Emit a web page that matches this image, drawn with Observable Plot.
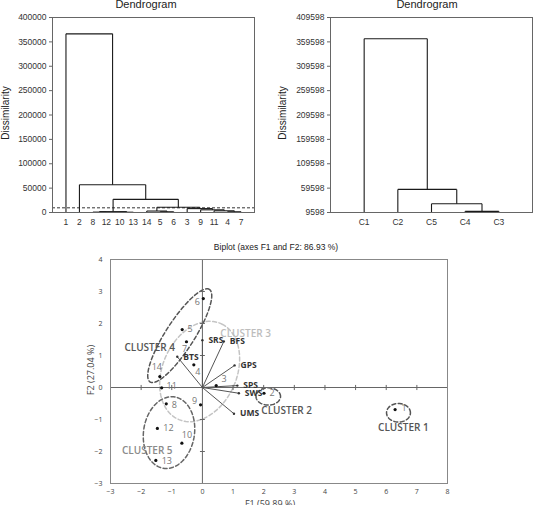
<!DOCTYPE html>
<html><head><meta charset="utf-8">
<script src="https://cdn.jsdelivr.net/npm/d3@7"></script>
<script src="https://cdn.jsdelivr.net/npm/@observablehq/plot@0.6"></script>
<style>
html,body{margin:0;padding:0;background:#fff;overflow:hidden}
#root{position:relative;width:533px;height:505px;font-family:"Liberation Sans",Arial,sans-serif;color:#222}
#root svg{position:absolute;overflow:visible}
.t{position:absolute;white-space:nowrap;transform:translate(-50%,-50%);line-height:1}
.r{transform:translate(-50%,-50%) rotate(-90deg)}
</style></head><body><div id="root"></div>
<script>
// ---------- Dendrogram 1 (objects) ----------
const leavesL = ["1","2","8","12","10","13","14","5","6","3","9","11","4","7"];
// merges: [childA, childB, dissimilarity]; children < n are leaves (by position), >= n are earlier merges
const mergesL = [
  [12,13,1500],[2,3,800],[4,5,600],[7,8,1500],[11,14,3500],[15,16,1800],
  [6,17,3000],[10,18,5500],[9,21,8000],[20,22,10900],[19,23,27000],[1,24,57000],[0,25,366500]
];
const yTicksL = [0,50000,100000,150000,200000,250000,300000,350000,400000];
const cutLevel = 9598;

// ---------- Dendrogram 2 (clusters) ----------
const leavesR = ["C1","C2","C5","C4","C3"];
const mergesR = [[3,4,12000],[2,5,27400],[1,6,57000],[0,7,366000]];
const yTicksR = [9598,59598,109598,159598,209598,259598,309598,359598,409598];

// ---------- Biplot ----------
const obsIds = ["1","2","3","4","5","6","7","8","9","10","11","12","13","14"];
const obsF1 = [6.29, 2.01, 0.45, -0.28, -0.66, 0.03, -0.52, -1.18, -0.06, -0.67, -1.33, -1.47, -1.52, -1.39];
const obsF2 = [-0.69, -0.18, 0.06, 0.71, 1.81, 2.78, 1.43, -0.51, -0.54, -1.74, -0.01, -1.28, -2.28, 0.34];
const varNames = ["SRS","BFS","BTS","GPS","SPS","SWS","UMS"];
const varF1 = [0.00, 0.70, -0.82, 1.05, 1.14, 1.19, 1.03];
const varF2 = [1.48, 1.44, 0.96, 0.69, 0.06, -0.18, -0.82];
const clusterNames = ["CLUSTER 1","CLUSTER 2","CLUSTER 3","CLUSTER 4","CLUSTER 5"];
const clusterLabelF1 = [6.56, 2.75, 1.41, -1.72, -1.80];
const clusterLabelF2 = [-1.26, -0.74, 1.69, 1.23, -1.97];
const ellCx = [6.40, 2.15, -0.09, -0.74, -1.09];
const ellCy = [-0.79, -0.28, 0.50, 1.62, -1.41];
const ellA = [0.39, 0.40, 1.65, 1.74, 1.13];
const ellB = [0.29, 0.27, 1.20, 0.46, 0.83];
const ellAngle = [0, 0, 63, 56, 80];
const xTicksB = [-3,-2,-1,0,1,2,3,4,5,6,7,8];
const yTicksB = [-3,-2,-1,0,1,2,3,4];

const root = document.getElementById("root");
function place(el, left, top){ el.style.left = left+"px"; el.style.top = top+"px"; root.appendChild(el); }
function label(txt, x, y, css, rot){
  const d = document.createElement("div"); d.className = "t" + (rot ? " r" : ""); d.textContent = txt;
  Object.assign(d.style, css); d.style.left = x+"px"; d.style.top = y+"px"; root.appendChild(d);
}

function dendroSegs(leaves, merges, base){
  const nx = leaves.map((_, i) => i), nh = leaves.map(() => base), segs = [];
  merges.forEach(([a, b, h]) => {
    segs.push({x1: nx[a], y1: nh[a], x2: nx[a], y2: h});
    segs.push({x1: nx[a], y1: h, x2: nx[b], y2: h});
    segs.push({x1: nx[b], y1: h, x2: nx[b], y2: nh[b]});
    nx.push((nx[a] + nx[b]) / 2); nh.push(h);
  });
  return segs;
}

function dendro(leaves, merges, yTicks, extra){
  const segs = dendroSegs(leaves, merges, yTicks[0]);
  return Plot.plot({
    width: 266, height: 230, marginLeft: 52, marginRight: 12, marginTop: 17, marginBottom: 18,
    style: {fontFamily: "Liberation Sans, Arial, sans-serif", fontSize: "8.5px", color: "#333", background: "transparent"},
    x: {domain: [-1, leaves.length]},
    y: {domain: [yTicks[0], yTicks[yTicks.length - 1]]},
    marks: [
      ...extra,
      Plot.link(segs, {x1: "x1", y1: "y1", x2: "x2", y2: "y2", stroke: "#1a1a1a", strokeWidth: 1.1}),
      Plot.frame({stroke: "#666", strokeWidth: 1}),
      Plot.axisX(leaves.map((_, i) => i), {tickFormat: i => leaves[i], tickSize: 0, tickPadding: 6, label: null, fill: "#333"}),
      Plot.axisY(yTicks, {tickFormat: d3.format("d"), tickSize: 3, tickPadding: 3, label: null, stroke: "#666", fill: "#333"})
    ]
  });
}

const d1 = dendro(leavesL, mergesL, yTicksL, [
  Plot.ruleY([cutLevel], {stroke: "#333", strokeWidth: 1, strokeDasharray: "3,2"})
]);
place(d1, 0, 0);
const d2 = dendro(leavesR, mergesR, yTicksR, []);
place(d2, 278, 0);

label("Dendrogram", 146, 4, {fontSize: "11px"});
label("Dendrogram", 427, 4, {fontSize: "11px"});
label("Dissimilarity", 6, 113, {fontSize: "10px"}, true);
label("Dissimilarity", 283, 113, {fontSize: "10px"}, true);

// Biplot data tables
const obs = obsIds.map((id, i) => ({id, x: obsF1[i], y: obsF2[i]}));
const vars = varNames.map((name, i) => ({name, x: varF1[i], y: varF2[i]}));
const clusters = clusterNames.map((name, i) => ({name, x: clusterLabelF1[i], y: clusterLabelF2[i]}));
function ellipsePts(i){
  const th = ellAngle[i] * Math.PI / 180, pts = [];
  for (let k = 0; k <= 96; k++){
    const t = k / 96 * 2 * Math.PI, u = ellA[i] * Math.cos(t), v = ellB[i] * Math.sin(t);
    pts.push({x: ellCx[i] + u * Math.cos(th) - v * Math.sin(th), y: ellCy[i] + u * Math.sin(th) + v * Math.cos(th)});
  }
  return pts;
}
const ellColor = ["#555","#555","#c4c4c4","#555","#666"];
const clusterColor = ["#555","#555","#bdbdbd","#555","#8a8a8a"];
const obsOffset = {"1":[9,-1],"2":[8,0],"3":[8,-6],"4":[4,7],"5":[8,0],"6":[-6,4],"7":[-2,7],"8":[8,1],
  "9":[-6,-4],"10":[5,-8],"11":[10,-2],"12":[11,0],"13":[11,1],"14":[-3,-10]};

const numFont = "Open Sans, Noto Sans, sans-serif";
const bp = Plot.plot({
  width: 533, height: 270, marginLeft: 110, marginRight: 86, marginTop: 24, marginBottom: 22,
  style: {fontFamily: numFont, fontSize: "7px", color: "#444", background: "transparent"},
  x: {domain: [-3, 8]},
  y: {domain: [-3, 4]},
  marks: [
    ...clusterNames.map((_, i) => Plot.line(ellipsePts(i), {x: "x", y: "y", stroke: ellColor[i], strokeWidth: 1.5, strokeDasharray: "4,2.5"})),
    Plot.ruleX([0], {stroke: "#666", strokeWidth: 1}),
    Plot.ruleY([0], {stroke: "#666", strokeWidth: 1}),
    Plot.link(xTicksB, {x1: d => d, x2: d => d, y1: () => -0.08, y2: () => 0.08, stroke: "#666"}),
    Plot.link(yTicksB, {y1: d => d, y2: d => d, x1: () => -0.08, x2: () => 0.08, stroke: "#666"}),
    Plot.link(vars, {x1: () => 0, y1: () => 0, x2: "x", y2: "y", stroke: "#555", strokeWidth: 1}),
    Plot.dot(vars, {x: "x", y: "y", r: 1.2, fill: "#333"}),
    Plot.dot(obs, {x: "x", y: "y", r: 1.6, fill: "#111"}),
    ...obs.map(o => Plot.text([o], {x: "x", y: "y", text: "id", dx: obsOffset[o.id][0], dy: obsOffset[o.id][1], fill: "#777", fontSize: 9})),
    Plot.text(vars, {x: "x", y: "y", text: "name", dx: 6, textAnchor: "start", fill: "#333", fontSize: 8.5, fontWeight: 700}),
    ...clusters.map((c, i) => Plot.text([c], {x: "x", y: "y", text: "name", fill: clusterColor[i], fontSize: 10, fontWeight: 600})),
    Plot.frame({stroke: "#888", strokeWidth: 1}),
    Plot.axisX(xTicksB, {tickSize: 0, tickPadding: 6, label: null, fill: "#444"}),
    Plot.axisY(yTicksB, {tickSize: 0, tickPadding: 8, label: null, fill: "#444"})
  ]
});
place(bp, 0, 235);

label("Biplot (axes F1 and F2: 86.93 %)", 276, 247, {fontSize: "8.5px"});
label("F2 (27.04 %)", 90, 370, {fontSize: "9px", fontFamily: numFont, color: "#444"}, true);
label("F1 (59.89 %)", 270, 503, {fontSize: "9px", fontFamily: numFont, color: "#444"});
</script>
</body></html>
